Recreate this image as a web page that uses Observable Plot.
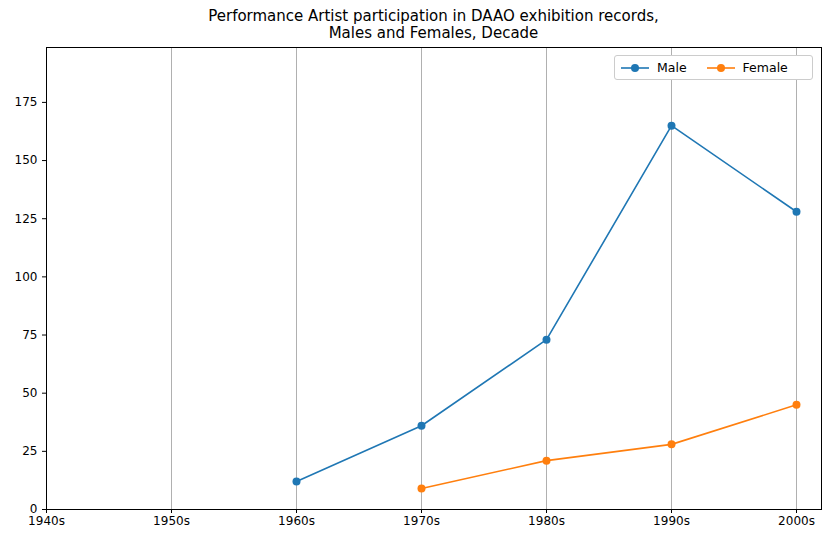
<!DOCTYPE html>
<html><head><meta charset="utf-8">
<script src="https://cdn.jsdelivr.net/npm/d3@7"></script>
<script src="https://cdn.jsdelivr.net/npm/@observablehq/plot@0.6"></script>
<style>
body{margin:0;background:#fff;font-family:"DejaVu Sans",sans-serif;}
#wrap{position:relative;width:831px;height:543px;}
#title{position:absolute;top:8px;left:46px;width:775px;text-align:center;font-size:15px;line-height:17px;color:#000;}
#legend{position:absolute;left:614px;top:55px;width:197px;height:23px;border:1px solid #ccc;border-radius:3px;background:#fff;font-size:12.5px;display:flex;align-items:center;}
.li{display:flex;align-items:center;margin-left:6px;margin-right:14px;}
.li svg{margin-right:8px;}
</style></head><body>
<div id="wrap"><div id="chart"></div>
<div id="title">Performance Artist participation in DAAO exhibition records,<br>Males and Females, Decade</div>
<div id="legend"></div></div>
<script>
const decades = ["1940s","1950s","1960s","1970s","1980s","1990s","2000s"];
const maleDecades = ["1960s","1970s","1980s","1990s","2000s"];
const maleValues = [12, 36, 73, 165, 128];
const femaleDecades = ["1970s","1980s","1990s","2000s"];
const femaleValues = [9, 21, 28, 45];
const COLORS = { Male: "#1f77b4", Female: "#ff7f0e" };

const idx = (d) => decades.indexOf(d);
const male = maleDecades.map((d, i) => ({ x: idx(d), y: maleValues[i] }));
const female = femaleDecades.map((d, i) => ({ x: idx(d), y: femaleValues[i] }));

const chart = Plot.plot({
  width: 831, height: 543,
  marginLeft: 46, marginRight: 10, marginTop: 47, marginBottom: 34,
  style: { fontFamily: "DejaVu Sans, sans-serif", fontSize: "12px", color: "#000" },
  x: { domain: [0, 6.2], ticks: d3.range(decades.length), tickFormat: (i) => decades[i],
       tickSize: 4, tickPadding: 3, label: null },
  y: { domain: [0, 198.6], ticks: d3.range(0, 200, 25), tickSize: 4, label: null },
  marks: [
    Plot.gridX(d3.range(decades.length), { stroke: "#b0b0b0", strokeOpacity: 1 }),
    Plot.line(male, { x: "x", y: "y", stroke: COLORS.Male, strokeWidth: 1.6 }),
    Plot.dot(male, { x: "x", y: "y", fill: COLORS.Male, r: 4 }),
    Plot.line(female, { x: "x", y: "y", stroke: COLORS.Female, strokeWidth: 1.6 }),
    Plot.dot(female, { x: "x", y: "y", fill: COLORS.Female, r: 4 }),
    Plot.frame({ stroke: "#000" }),
  ],
});
document.getElementById("chart").appendChild(chart);

document.getElementById("legend").innerHTML = Object.entries(COLORS).map(([k, c]) =>
  `<span class="li"><svg width="28" height="10"><line x1="0" y1="5" x2="28" y2="5" stroke="${c}" stroke-width="1.6"/><circle cx="14" cy="5" r="4" fill="${c}"/></svg>${k}</span>`).join("");
</script></body></html>
